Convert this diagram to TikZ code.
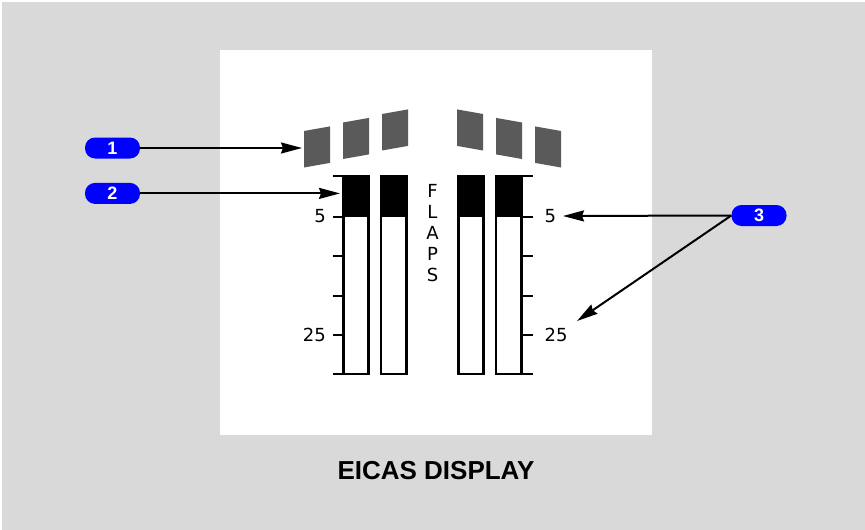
\documentclass[tikz,border=0pt]{standalone}
\usepackage{fontspec}
\setmainfont{Liberation Sans}
\newfontfamily\scalefont{DejaVu Sans}
\usetikzlibrary{arrows.meta}
\definecolor{bggray}{HTML}{D9D9D9}
\definecolor{flapgray}{HTML}{5A5A5A}
\definecolor{tagblue}{HTML}{0000FF}
\tikzset{
  tag/.style      = {rectangle, fill=tagblue, text=white, rounded corners=10pt,
                     minimum width=55pt, minimum height=21pt, inner sep=0pt,
                     font=\fontsize{18}{18}\selectfont\bfseries},
  bar/.style      = {draw, line width=2.4pt, fill=white},
  scaletick/.style= {line width=2pt},
  flap/.style     = {fill=flapgray},
  lab/.style      = {font=\scalefont\fontsize{18}{21}\selectfont, inner sep=0pt},
  callout/.style  = {line width=2pt, -{Stealth[length=21pt, width=11pt, inset=2pt]}},
}

\begin{document}
\begin{tikzpicture}[x=1pt, y=-1pt]

  \useasboundingbox (0,0) rectangle (865,530);
  \fill[bggray] (1.5,1.5) rectangle (865,530);
  \fill[white] (220,50) rectangle (652,435);

  % flap position indicators
  \foreach \i in {0,1,2} {
    \fill[flap] ({304+39*\i},{131-8.5*\i}) -- ++(26,-4.6) -- ++(0,36.5) -- ++(-26,4.6) -- cycle;
    \fill[flap] ({561-39*\i},{131-8.5*\i}) -- ++(-26,-4.6) -- ++(0,36.5) -- ++(26,4.6) -- cycle;
  }

  % bars
  \foreach \x in {343.3,381,458.3,496} {
    \draw[bar] (\x,176) rectangle ++(25.3,198);
    \fill (\x,176) rectangle ++(25.3,40.5);
  }

  % scales
  \foreach \y in {176,216.5,256,295.5,335,374} {
    \draw[scaletick] (333,\y) -- (343.3,\y);
    \draw[scaletick] (521.7,\y) -- (533,\y);
  }

  \node[lab, anchor=east] (l5)  at (326,216.5) {5};
  \node[lab, anchor=east] (l25) at (326,335)   {25};
  \node[lab, anchor=west] (r5)  at (544.5,216.5) {5};
  \node[lab, anchor=west] (r25) at (544.5,335)   {25};
  \node[lab, align=center] (flaps) at (432.5,233) {F\\L\\A\\P\\S};

  % callouts
  \node[tag] (t1) at (112.5,148)   {1};
  \node[tag] (t2) at (112.5,193.4) {2};
  \node[tag] (t3) at (759,215.5)   {3};

  \coordinate (flaptip) at (302,148);
  \coordinate (bartip)  at (340,193.4);
  \coordinate (fivetip) at (563,216);
  \coordinate (twtip)   at (577,321);

  \draw[callout] (t1) -- (flaptip);
  \draw[callout] (t2) -- (bartip);
  \draw[callout] (t3.west) -- (fivetip);
  \draw[callout] (t3.west) -- (twtip);

  \node[font=\fontsize{26}{26}\selectfont\bfseries] (title) at (436,471) {EICAS DISPLAY};

\end{tikzpicture}
\end{document}
